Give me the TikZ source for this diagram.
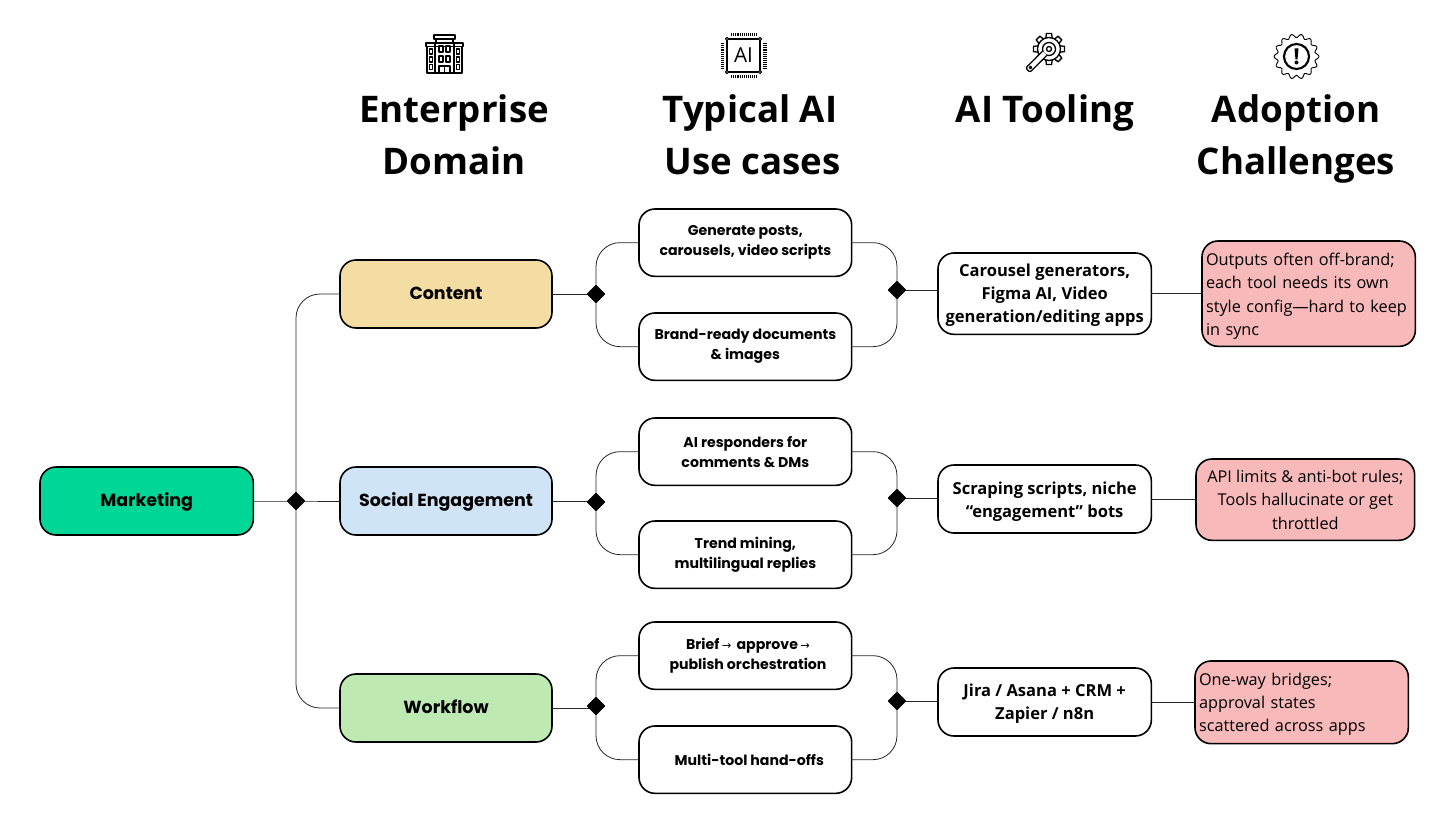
\documentclass[tikz,border=0pt]{standalone}
\usepackage{fontspec}
\setmainfont{Open Sans}
\newfontfamily\titlefont{Open Sans}
\newfontfamily\boxfont{Poppins}
\newfontfamily\toolfont{Open Sans}
\newfontfamily\arrowfont{DejaVu Sans}
\usetikzlibrary{shapes.geometric}
\definecolor{cmark}{HTML}{00D695}
\definecolor{ccontent}{HTML}{F3DDA3}
\definecolor{csocial}{HTML}{CFE4F7}
\definecolor{cwork}{HTML}{BFE9B3}
\definecolor{cred}{HTML}{F7B9B9}
\newcommand{\thinarrow}{{\arrowfont\mdseries\fontsize{8.5}{8.5}\selectfont →}}
\newcommand{\lift}[1]{\rule{0pt}{#1}}
\tikzset{
  basebox/.style={draw=black,line width=1.2pt,rounded corners=12pt,inner sep=0pt,outer sep=0pt,align=center,anchor=north west},
  domainbox/.style={basebox,text height=9.5pt,text depth=2pt,font=\boxfont\bfseries\fontsize{13.1}{15}\selectfont},
  usecasebox/.style={basebox,fill=white,font=\boxfont\bfseries\fontsize{10.6}{15}\selectfont},
  toolbox/.style={basebox,fill=white,font=\toolfont\bfseries\fontsize{12.4}{17.2}\selectfont},
  riskbox/.style={basebox,fill=cred,font=\fontsize{12.2}{17.5}\selectfont},
  headtext/.style={font=\titlefont\bfseries\fontsize{27.5}{39}\selectfont,align=center,inner sep=0pt},
  linkline/.style={draw=black!85,line width=.6pt},
  bendline/.style={linkline,rounded corners=18pt},
  junction/.style={diamond,fill=black,draw=black,line join=round,line width=1pt,minimum size=13pt,inner sep=0pt},
  iconline/.style={draw=black,line width=1pt,line join=round},
}
\begin{document}
\begin{tikzpicture}[x=.75pt,y=-.75pt]
\useasboundingbox (0,0) rectangle (1456,817);
% titles
\node[headtext] (t1) at (454,135) {Enterprise\\Domain};
\node[headtext] (t2) at (750,135) {Typical AI\\\hspace*{4pt}Use cases};
\node[headtext] (t3) at (1045,113) {AI Tooling};
\node[headtext] (t4) at (1296,139) {Adoption\\Challenges};
% boxes
\node[domainbox,fill=cmark,minimum width=160pt,minimum height=51pt] (mk) at (40,467) {Marketing};
\node[domainbox,fill=ccontent,minimum width=159pt,minimum height=51pt] (con) at (340,260) {Content};
\node[domainbox,fill=csocial,minimum width=159pt,minimum height=51pt] (soc) at (340,467) {Social Engagement};
\node[domainbox,fill=cwork,minimum width=159pt,minimum height=51pt] (wf) at (340,674) {Workflow};
\tikzset{uc/.style={usecasebox,minimum width=159.5pt,minimum height=50.5pt}}
\node[uc] (u1) at (639,209) {Generate posts,\\carousels, video scripts};
\node[uc] (u2) at (639,313) {Brand-ready documents\\\& images};
\node[uc] (u3) at (639,418) {AI responders for\\comments \& DMs};
\node[uc] (u4) at (639,521) {Trend mining,\\multilingual replies};
\node[uc] (u5) at (639,622) {\hspace*{4pt}Brief\,\thinarrow{}\, approve\,\thinarrow\\\hspace*{4pt}publish orchestration};
\node[uc] (u6) at (639,726) {\hspace*{6pt}Multi-tool hand-offs};
\node[toolbox,minimum width=160pt,minimum height=61pt] (t1b) at (938,253) {\lift{11.5pt}Carousel generators,\\Figma AI, Video\\generation/editing apps};
\node[toolbox,minimum width=160pt,minimum height=51pt] (t2b) at (938,465) {\lift{14pt}Scraping scripts, niche\\“engagement” bots};
\node[toolbox,minimum width=160pt,minimum height=51pt] (t3b) at (938,668) {\lift{12.5pt}Jira / Asana + CRM +\\Zapier / n8n};
\node[riskbox,minimum width=160pt,minimum height=79pt,text width=154pt,align=left] (r1) at (1202,241) {\lift{13pt}Outputs often off-brand;\\each tool needs its own\\style config—hard to keep\\in sync};
\node[riskbox,minimum width=164pt,minimum height=61pt] (r2) at (1196,459) {API limits \& anti-bot rules;\\Tools hallucinate or get\\throttled};
\node[riskbox,minimum width=160pt,minimum height=62pt,text width=154pt,align=left] (r3) at (1195,661) {\lift{12pt}One-way bridges;\\approval states\\scattered across apps};
% junctions
\coordinate (j0) at (296,501);
\coordinate (j1) at (596,294);
\coordinate (j2) at (897,290);
\coordinate (j3) at (596,502);
\coordinate (j4) at (897,498);
\coordinate (j5) at (596,706);
\coordinate (j6) at (897,701);
% connectors
\draw[linkline] (mk.east) -- (j0) -- (soc.west);
\draw[bendline] (con.west) -| (j0);
\draw[bendline] (wf.west) -| (j0);
\draw[linkline] (con.east) -- (con.east -| j1);
\draw[linkline] (soc.east) -- (soc.east -| j3);
\draw[linkline] (wf.east) -- (wf.east -| j5);
\foreach \a/\b/\c in {u1/u2/j1,u3/u4/j3,u5/u6/j5}{
  \draw[bendline] (\a.west) -| (\c);
  \draw[bendline] (\b.west) -| (\c);
}
\foreach \a/\b/\c in {u1/u2/j2,u3/u4/j4,u5/u6/j6}{
  \draw[bendline] (\a.east) -| (\c);
  \draw[bendline] (\b.east) -| (\c);
}
\draw[linkline] (j2) -- (j2 -| t1b.west);
\draw[linkline] (j4) -- (j4 -| t2b.west);
\draw[linkline] (j6) -- (j6 -| t3b.west);
\draw[linkline] (t1b.east) -- (t1b.east -| r1.west);
\draw[linkline] (t2b.east) -- (t2b.east -| r2.west);
\draw[linkline] (t3b.east) -- (t3b.east -| r3.west);
\foreach \j/\n in {j0/d0,j1/d1,j2/d2,j3/d3,j4/d4,j5/d5,j6/d6}{\node[junction] (\n) at (\j) {};}
% building icon
\begin{scope}[iconline,shift={(425,34)}]
\draw (1,9) rectangle (38,12.5);
\draw (9,1) rectangle (30,5);
\draw (11,5) -- (11,9); \draw (28,5) -- (28,9);
\draw[line width=1.4pt] (2,12.5) -- (2,39) -- (37,39) -- (37,12.5);
\draw (10,9) -- (10,39); \draw (29,9) -- (29,39);
\draw (14,32) rectangle (25,39); \draw (19.5,32) -- (19.5,39);
\foreach \x in {14,21}{\foreach \y in {12,22}{\draw[line width=1.2pt] (\x,\y) rectangle ++(4,6);}}
\foreach \x in {4.5,31.5}{\foreach \y in {15,23,30.5}{\draw (\x,\y) rectangle ++(3,5);}}
\end{scope}
% chip icon
\begin{scope}[iconline,shift={(722,34)}]
\draw[line width=1.2pt] (5,5) rectangle (38,38);
\foreach \p in {(5,5),(38,5),(5,38),(38,38)}{\draw[fill=white,line width=.7pt] \p circle (1.6);}
\foreach \t in {0,...,13}{
  \draw[line width=.5pt] (9+\t*1.95,-1) -- (9+\t*1.95,2.5);
  \draw[line width=.5pt] (9+\t*1.95,41) -- (9+\t*1.95,44.5);
  \draw[line width=.5pt] (-1.5,9+\t*1.95) -- (2,9+\t*1.95);
  \draw[line width=.5pt] (41,9+\t*1.95) -- (44.5,9+\t*1.95);
}
\node[draw=none,inner sep=0pt,font=\toolfont\fontsize{15.5}{15.5}\selectfont] (chiptext) at (21.5,21.5) {AI};
\end{scope}
% wrench icon
\begin{scope}[iconline,shift={(1049,49)}]
\foreach \t in {0,45,...,315}{\draw[rotate=\t,fill=white] (10.5,-3.2) -- (15.5,-2.6) -- (15.5,2.6) -- (10.5,3.2);}
\draw[fill=white] (0,0) circle (11.5);
\draw (0,0) circle (6.5);
\draw (0,0) circle (2.5);
\draw[fill=white,line width=1pt,rounded corners=1.5pt,rotate=45] (-6,-3) -- (-30,-3) -- (-30,3) -- (-6,3);
\draw[fill=white] (-18.5,18.5) circle (1.2);
\end{scope}
% challenge icon
\begin{scope}[iconline,shift={(1296.5,56.5)}]
\draw[line width=.7pt] plot[smooth cycle,samples=112,domain=0:356.8] (\x:{20.7+1.8*sin(14*\x+90)});
\draw[line width=1.6pt] (0,0) circle (12.5);
\fill[black,draw=none] (-2,-8) -- (2,-8) -- (1,3) -- (-1,3) -- cycle;
\fill[black,draw=none] (0,6) circle (2);
\end{scope}
\end{tikzpicture}
\end{document}
